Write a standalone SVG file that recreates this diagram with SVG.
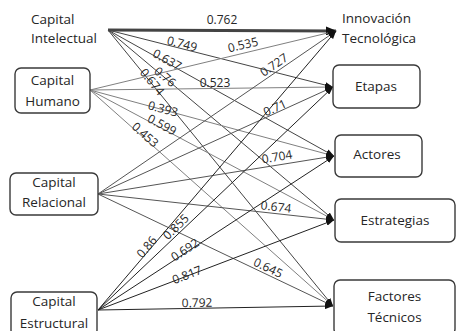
<svg xmlns="http://www.w3.org/2000/svg" width="456" height="331" viewBox="0 0 456 331">
<defs>
<marker id="arr" markerUnits="userSpaceOnUse" markerWidth="8" markerHeight="6" refX="8" refY="3" orient="auto"><path d="M0,0 L8,3 L0,6 z" fill="#111"/></marker>
<marker id="arrB" markerUnits="userSpaceOnUse" markerWidth="11" markerHeight="9" refX="10" refY="4.5" orient="auto"><path d="M0,0 L11,4.5 L0,9 z" fill="#111"/></marker>
</defs>
<style>
.box{fill:#fff;stroke:#3a3a3a;stroke-width:1.4}
.t{font-family:"Open Sans",sans-serif;font-size:13.5px;fill:#262626}
.c{text-anchor:middle}
.l{font-family:"Open Sans",sans-serif;font-size:12px;fill:#262626;text-anchor:middle}
.e{fill:none;stroke-width:1;marker-end:url(#arr)}
.ci{stroke:#444}
.ch{stroke:#808080}
.cr{stroke:#555}
.ce{stroke:#222}
</style>
<rect width="456" height="331" fill="#fff"/>
<g id="connectors">
<line class="ci" x1="108" y1="30" x2="336" y2="31" stroke-width="3" fill="none" marker-end="url(#arrB)"/>
<line class="e ci" x1="108" y1="30" x2="333" y2="87"/>
<line class="e ci" x1="108" y1="30" x2="334" y2="156"/>
<line class="e ci" x1="108" y1="30" x2="334" y2="220"/>
<line class="e ci" x1="108" y1="30" x2="333" y2="306"/>
<line class="e ch" x1="90" y1="90" x2="336" y2="31"/>
<line class="e ch" x1="90" y1="90" x2="333" y2="87"/>
<line class="e ch" x1="90" y1="90" x2="334" y2="156"/>
<line class="e ch" x1="90" y1="90" x2="334" y2="220"/>
<line class="e ch" x1="90" y1="90" x2="333" y2="306"/>
<line class="e cr" x1="98" y1="194" x2="336" y2="31"/>
<line class="e cr" x1="98" y1="194" x2="333" y2="87"/>
<line class="e cr" x1="98" y1="194" x2="334" y2="156"/>
<line class="e cr" x1="98" y1="194" x2="334" y2="220"/>
<line class="e cr" x1="98" y1="194" x2="333" y2="306"/>
<line class="e ce" x1="98" y1="310" x2="336" y2="31"/>
<line class="e ce" x1="98" y1="310" x2="333" y2="87"/>
<line class="e ce" x1="98" y1="310" x2="334" y2="156"/>
<line class="e ce" x1="98" y1="310" x2="334" y2="220"/>
<line class="e ce" x1="98" y1="310" x2="333" y2="306"/>
</g>
<g id="edge-labels">
<text class="l" transform="translate(222,20)" y="4">0.762</text>
<text class="l" transform="translate(182,44) rotate(14.2)" y="4">0.749</text>
<text class="l" transform="translate(167,60) rotate(29)" y="4">0.637</text>
<text class="l" transform="translate(165,77) rotate(40)" y="4">0.76</text>
<text class="l" transform="translate(152,82) rotate(50.8)" y="4">0.674</text>
<text class="l" transform="translate(243,45) rotate(-13.5)" y="4">0.535</text>
<text class="l" transform="translate(215,83)" y="4">0.523</text>
<text class="l" transform="translate(163,109) rotate(15)" y="4">0.393</text>
<text class="l" transform="translate(162,125) rotate(28)" y="4">0.599</text>
<text class="l" transform="translate(145,135) rotate(41.6)" y="4">0.453</text>
<text class="l" transform="translate(274,65) rotate(-34.5)" y="4">0.727</text>
<text class="l" transform="translate(275,108) rotate(-24.6)" y="4">0.71</text>
<text class="l" transform="translate(277,157) rotate(-9.2)" y="4">0.704</text>
<text class="l" transform="translate(276,207) rotate(6.3)" y="4">0.674</text>
<text class="l" transform="translate(268,268) rotate(25.6)" y="4">0.645</text>
<text class="l" transform="translate(147,247) rotate(-49.7)" y="4">0.86</text>
<text class="l" transform="translate(176,227) rotate(-43.6)" y="4">0.855</text>
<text class="l" transform="translate(185,250) rotate(-33.2)" y="4">0.692</text>
<text class="l" transform="translate(187,275) rotate(-21)" y="4">0.817</text>
<text class="l" transform="translate(197,303) rotate(-1)" y="4">0.792</text>
</g>
<g id="capital-intelectual">
<text class="t" x="31" y="24">Capital</text>
<text class="t" x="31" y="43">Intelectual</text>
</g>
<g id="capital-humano">
<rect class="box" x="15" y="68" width="75" height="45" rx="6"/>
<text class="t c" x="52.5" y="84.5">Capital</text>
<text class="t c" x="52.5" y="106">Humano</text>
</g>
<g id="capital-relacional">
<rect class="box" x="10" y="173" width="88" height="42" rx="6"/>
<text class="t c" x="54" y="187">Capital</text>
<text class="t c" x="54" y="207">Relacional</text>
</g>
<g id="capital-estructural">
<rect class="box" x="11" y="292" width="86" height="44" rx="6"/>
<text class="t c" x="54" y="306">Capital</text>
<text class="t c" x="54" y="328">Estructural</text>
</g>
<g id="innovacion-tecnologica">
<text class="t" x="342" y="23">Innovación</text>
<text class="t" x="342" y="43">Tecnológica</text>
</g>
<g id="etapas">
<rect class="box" x="333" y="65" width="87" height="43" rx="6"/>
<text class="t c" x="376" y="91">Etapas</text>
</g>
<g id="actores">
<rect class="box" x="335" y="135" width="87" height="42" rx="6"/>
<text class="t c" x="377" y="159">Actores</text>
</g>
<g id="estrategias">
<rect class="box" x="335" y="199" width="120" height="43" rx="6"/>
<text class="t c" x="395" y="224.5">Estrategias</text>
</g>
<g id="factores-tecnicos">
<rect class="box" x="334" y="280" width="121" height="55" rx="6"/>
<text class="t c" x="394.5" y="301">Factores</text>
<text class="t c" x="394.5" y="322">Técnicos</text>
</g>
</svg>
